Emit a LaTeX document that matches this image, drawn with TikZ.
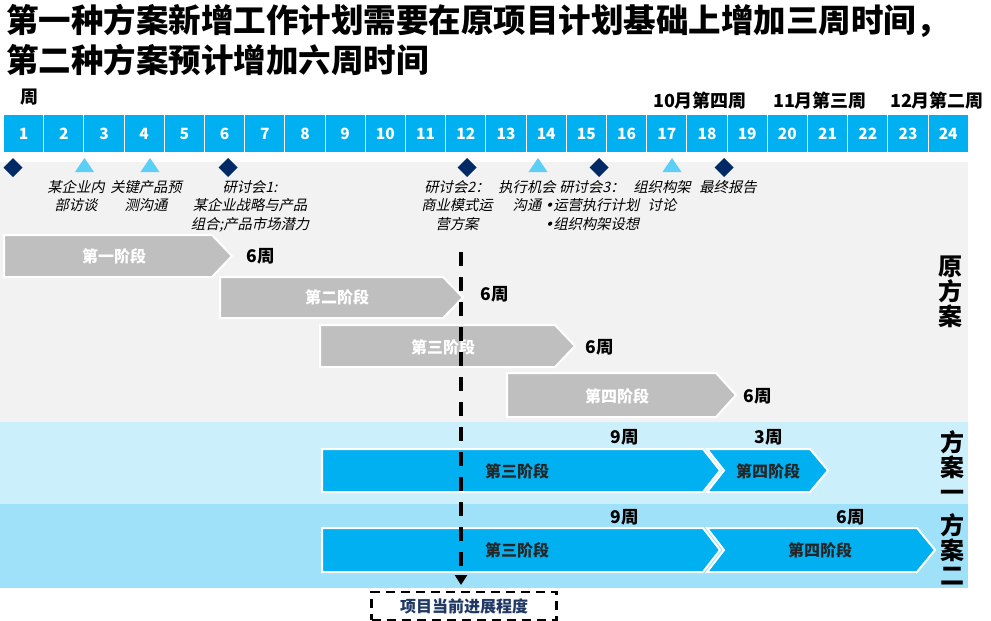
\documentclass[tikz,border=0pt]{standalone}
\usepackage{fontspec}
\setmainfont{Noto Sans CJK SC}
\newfontfamily\itfont[FakeSlant=0.22]{Noto Sans CJK SC}
\newfontfamily\dvs[FakeSlant=0.22]{DejaVu Sans}
\usetikzlibrary{arrows.meta,shapes.geometric}
\definecolor{hdr}{HTML}{00B0F0}
\definecolor{navy}{HTML}{002A66}
\definecolor{tri}{HTML}{5BCFF5}
\definecolor{bggray}{HTML}{F2F2F2}
\definecolor{chgray}{HTML}{BFBFBF}
\definecolor{bandA}{HTML}{CCEFFC}
\definecolor{bandB}{HTML}{9EE1F9}
\definecolor{boxtxt}{HTML}{1F3864}
\newcommand{\blt}{{\dvs •}}
\begin{document}
\begin{tikzpicture}[x=1pt,y=-1pt,
  hcell/.style={draw=white,line width=1pt,fill=hdr},
  hnum/.style={text=white,font=\fontsize{15.5}{15.5}\selectfont\bfseries,inner sep=0},
  mlab/.style={font=\fontsize{18}{18}\selectfont\bfseries,inner sep=0},
  lab/.style={font=\itfont\fontsize{14.3}{18.5}\selectfont,align=center,inner sep=0,anchor=north},
  gchev/.style={fill=chgray,draw=white,line width=2pt},
  bchev/.style={fill=hdr,draw=white,line width=2pt},
  gtxt/.style={text=white,font=\fontsize{16}{16}\selectfont\bfseries,inner sep=0},
  btxt/.style={text=black!85,font=\fontsize{16}{16}\selectfont\bfseries,inner sep=0},
  wk/.style={font=\fontsize{17.5}{17.5}\selectfont\bfseries,inner sep=0},
  side/.style={font=\fontsize{24}{25}\selectfont\bfseries,align=center,inner sep=0},
  dia/.style={fill=navy}, trim/.style={fill=tri}]
\useasboundingbox (0,0) rectangle (991,621);
% title
\node[anchor=west,inner sep=0,font=\fontsize{32.5}{32.5}\selectfont\bfseries] (t1) at (6,21) {第一种方案新增工作计划需要在原项目计划基础上增加三周时间，};
\node[anchor=west,inner sep=0,font=\fontsize{32.5}{32.5}\selectfont\bfseries] (t2) at (6,60) {第二种方案预计增加六周时间};
\node[inner sep=0,font=\fontsize{18}{18}\selectfont\bfseries] (zhou) at (29,97) {周};
\node[mlab] (m10) at (700,101) {10月第四周};
\node[mlab] (m11) at (820,101) {11月第三周};
\node[mlab] (m12) at (937,101) {12月第二周};
% backgrounds
\fill[bggray] (0,162) rectangle (968,422);
\fill[bandA] (0,422) rectangle (968,504);
\fill[bandB] (0,504) rectangle (968,588);
% header cells
\foreach \i in {1,...,24}{
  \pgfmathsetmacro{\xa}{3.5+(\i-1)*40.2}
  \pgfmathsetmacro{\xb}{3.5+\i*40.2}
  \draw[hcell] (\xa,114) rectangle (\xb,152);
  \node[hnum] (h\i) at ({(\xa+\xb)/2},133.5) {\i};
}
% milestones
\foreach \x in {13,228,467,599,724}{
  \fill[dia] (\x-9.5,167.5) -- (\x,158) -- (\x+9.5,167.5) -- (\x,177) -- cycle;
}
\foreach \x in {84.5,150,538,672}{
  \fill[trim] (\x-9.5,172) -- (\x+9.5,172) -- (\x,158) -- cycle;
}
% milestone labels
\node[lab] (l1) at (76,180) {某企业内\\部访谈};
\node[lab] (l2) at (146,180) {关键产品预\\测沟通};
\node[lab] (l3) at (250,180) {研讨会1:\\某企业战略与产品\\组合;产品市场潜力};
\node[lab] (l4) at (457,180) {研讨会2：\\商业模式运\\营方案};
\node[lab] (l5) at (527,180) {执行机会\\沟通};
\node[lab] (l6) at (592,180) {研讨会3：\\\blt 运营执行计划\\\blt 组织构架设想};
\node[lab] (l7) at (662,180) {组织构架\\讨论};
\node[lab] (l8) at (728,180) {最终报告};
% gray chevrons
\path[gchev] (4,235) -- (212,235) -- (232,256) -- (212,277) -- (4,277) -- cycle;
\path[gchev] (220,277) -- (443,277) -- (463,297.5) -- (443,318) -- (220,318) -- cycle;
\path[gchev] (320,325) -- (555,325) -- (575,346) -- (555,367) -- (320,367) -- cycle;
\path[gchev] (507,373) -- (716,373) -- (736,395) -- (716,417) -- (507,417) -- cycle;
\node[gtxt] (g1) at (114,256) {第一阶段};
\node[gtxt] (g2) at (337,297.5) {第二阶段};
\node[gtxt] (g3) at (443,347) {第三阶段};
\node[gtxt] (g4) at (617,396) {第四阶段};
\node[wk] (w1) at (261,256) {6周};
\node[wk] (w2) at (495,294) {6周};
\node[wk] (w3) at (600,347) {6周};
\node[wk] (w4) at (758,396) {6周};
% blue chevrons, plan 1
\path[bchev] (322,449) -- (703,449) -- (720,470.5) -- (703,492) -- (322,492) -- cycle;
\path[bchev] (707,449) -- (810,449) -- (828,470.5) -- (810,492) -- (707,492) -- (724,470.5) -- cycle;
\node[btxt] (a3) at (517,471) {第三阶段};
\node[btxt] (a4) at (768,471) {第四阶段};
\node[wk] (aw3) at (625,437) {9周};
\node[wk] (aw4) at (769,437) {3周};
% blue chevrons, plan 2
\path[bchev] (322,528) -- (703,528) -- (720,550) -- (703,572) -- (322,572) -- cycle;
\path[bchev] (707,528) -- (917,528) -- (935,550) -- (917,572) -- (707,572) -- (724,550) -- cycle;
\node[btxt] (b3) at (517,550) {第三阶段};
\node[btxt] (b4) at (820,550) {第四阶段};
\node[wk] (bw3) at (625,517) {9周};
\node[wk] (bw4) at (851,517) {6周};
% side labels
\node[side] (s0) at (950,292) {原\\方\\案};
\node[side] (s1) at (952,466) {方\\案\\一};
\node[side] (s2) at (952,549) {方\\案\\二};
% progress line and box
\node[draw=black,line width=2.5pt,dash pattern=on 9pt off 6pt,minimum width=185pt,minimum height=28pt,inner sep=0,text=boxtxt,font=\fontsize{16}{16}\selectfont\bfseries] (box) at (464,606) {项目当前进展程度};
\coordinate (dtop) at (461,252);
\coordinate (dend) at (461,585);
\draw[line width=3.5pt,dash pattern=on 14pt off 11pt,-{Triangle[length=10pt,width=12pt]}] (dtop) -- (dend);
\end{tikzpicture}
\end{document}
